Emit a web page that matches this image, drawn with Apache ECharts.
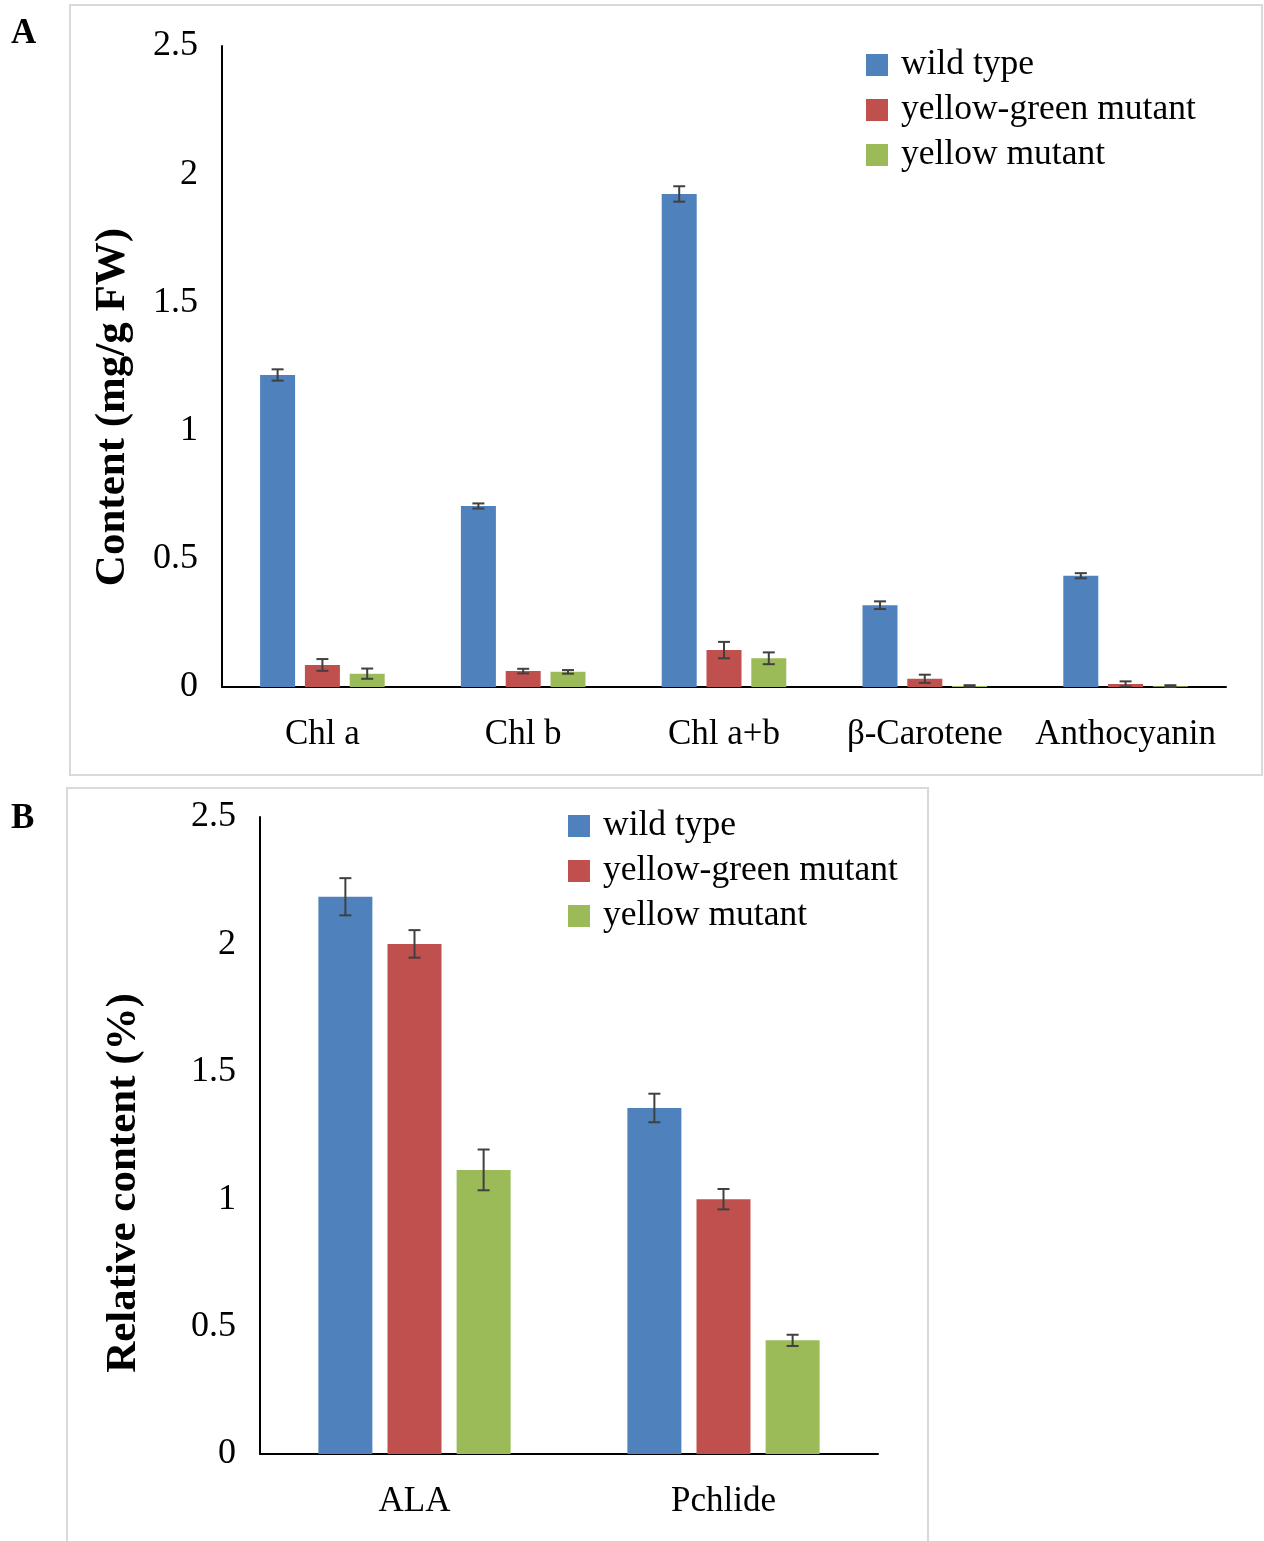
<!DOCTYPE html>
<html>
<head>
<meta charset="utf-8">
<title>Pigment content</title>
<script src="https://cdn.jsdelivr.net/npm/echarts@6/dist/echarts.min.js"></script>
<style>
  html, body { margin: 0; padding: 0; background: #fff; }
  #chart { width: 1264px; height: 1541px; }
</style>
</head>
<body>
<div id="chart"></div>
<script>
// Panel A: pigment content (mg/g FW)
const categoriesA = ['Chl a', 'Chl b', 'Chl a+b', 'β-Carotene', 'Anthocyanin'];
const wildTypeA = [1.217, 0.706, 1.923, 0.319, 0.434];
const yellowGreenA = [0.086, 0.062, 0.144, 0.032, 0.012];
const yellowA = [0.052, 0.059, 0.112, 0.004, 0.003];
const wildTypeErrA = [0.022, 0.010, 0.030, 0.015, 0.010];
const yellowGreenErrA = [0.023, 0.009, 0.032, 0.016, 0.010];
const yellowErrA = [0.020, 0.007, 0.023, 0.003, 0.004];

// Panel B: relative content (%)
const categoriesB = ['ALA', 'Pchlide'];
const wildTypeB = [2.187, 1.358];
const yellowGreenB = [2.002, 1.000];
const yellowB = [1.115, 0.446];
const wildTypeErrB = [0.073, 0.056];
const yellowGreenErrB = [0.054, 0.040];
const yellowErrB = [0.080, 0.022];

const yTicks = [0, 0.5, 1, 1.5, 2, 2.5];
const seriesNames = ['wild type', 'yellow-green mutant', 'yellow mutant'];
const colors = ['#4F81BD', '#C0504D', '#9BBB59'];

const FONT = '"Liberation Serif", "Times New Roman", serif';
const BAR_GAP = 0.28;
const BAR_W_A = 35;
const BAR_W_B = 54;

// Error bars drawn on top of each bar, shifted to the bar's slot in its group
function errorBar(slot, barWidth) {
  const step = barWidth * (1 + BAR_GAP);
  return function (params, api) {
    const i = api.value(0), v = api.value(1), e = api.value(2);
    const hi = api.coord([i, v + e]);
    const lo = api.coord([i, Math.max(0, v - e)]);
    const x = hi[0] + (slot - 1) * step;
    const cap = 6;
    const style = { stroke: '#404040', lineWidth: 2 };
    return {
      type: 'group',
      children: [
        { type: 'line', shape: { x1: x, y1: hi[1], x2: x, y2: lo[1] }, style },
        { type: 'line', shape: { x1: x - cap, y1: hi[1], x2: x + cap, y2: hi[1] }, style },
        { type: 'line', shape: { x1: x - cap, y1: lo[1], x2: x + cap, y2: lo[1] }, style }
      ]
    };
  };
}

function barSeries(name, data, idx, barWidth) {
  return {
    name, type: 'bar', data,
    xAxisIndex: idx, yAxisIndex: idx,
    barWidth, barGap: (BAR_GAP * 100) + '%',
    itemStyle: { color: colors[seriesNames.indexOf(name)] },
    z: 2
  };
}

function errSeries(values, errs, idx, slot, barWidth) {
  return {
    type: 'custom',
    xAxisIndex: idx, yAxisIndex: idx,
    renderItem: errorBar(slot, barWidth),
    data: values.map((v, i) => [i, v, errs[i]]),
    z: 5, silent: true
  };
}

const valueAxis = (idx) => ({
  type: 'value', gridIndex: idx,
  min: yTicks[0], max: yTicks[yTicks.length - 1], interval: 0.5,
  axisLine: { show: true, lineStyle: { color: '#000', width: 2 } },
  axisTick: { show: false },
  splitLine: { show: false },
  axisLabel: { fontFamily: FONT, fontSize: 36, color: '#000', margin: 24 }
});

const categoryAxis = (idx, cats) => ({
  type: 'category', gridIndex: idx, data: cats,
  axisLine: { show: true, lineStyle: { color: '#000', width: 2 } },
  axisTick: { show: false },
  axisLabel: { fontFamily: FONT, fontSize: 35, color: '#000', margin: 30, interval: 0 }
});

const legendCommon = {
  orient: 'vertical',
  icon: 'rect',
  itemWidth: 22, itemHeight: 22,
  itemGap: 9,
  data: seriesNames,
  textStyle: { fontFamily: FONT, fontSize: 35.5, color: '#000', padding: [0, 0, 0, 8] },
  selectedMode: false
};

const chart = echarts.init(document.getElementById('chart'), null, { renderer: 'canvas' });

chart.setOption({
  backgroundColor: '#fff',
  animation: false,
  grid: [
    { left: 222, top: 46, width: 1004, height: 641 },
    { left: 260, top: 817, width: 618, height: 637 }
  ],
  xAxis: [categoryAxis(0, categoriesA), categoryAxis(1, categoriesB)],
  yAxis: [valueAxis(0), valueAxis(1)],
  legend: [
    Object.assign({ left: 861, top: 42 }, legendCommon),
    Object.assign({ left: 563, top: 803 }, legendCommon)
  ],
  graphic: [
    { type: 'rect', shape: { x: 70, y: 5, width: 1192, height: 770 },
      style: { fill: 'none', stroke: '#d9d9d9', lineWidth: 2 }, z: -1 },
    { type: 'rect', shape: { x: 67, y: 788, width: 861, height: 760 },
      style: { fill: 'none', stroke: '#d9d9d9', lineWidth: 2 }, z: -1 },
    { type: 'text', left: 11, top: 16,
      style: { text: 'A', font: 'bold 35px ' + FONT, fill: '#000' } },
    { type: 'text', left: 11, top: 801,
      style: { text: 'B', font: 'bold 35px ' + FONT, fill: '#000' } },
    { type: 'text', x: 113, y: 407, rotation: Math.PI / 2,
      style: { text: 'Content (mg/g FW)', font: 'bold 43px ' + FONT, fill: '#000',
               align: 'center', verticalAlign: 'middle' } },
    { type: 'text', x: 124, y: 1183, rotation: Math.PI / 2,
      style: { text: 'Relative content (%)', font: 'bold 43px ' + FONT, fill: '#000',
               align: 'center', verticalAlign: 'middle' } }
  ],
  series: [
    barSeries('wild type', wildTypeA, 0, BAR_W_A),
    barSeries('yellow-green mutant', yellowGreenA, 0, BAR_W_A),
    barSeries('yellow mutant', yellowA, 0, BAR_W_A),
    errSeries(wildTypeA, wildTypeErrA, 0, 0, BAR_W_A),
    errSeries(yellowGreenA, yellowGreenErrA, 0, 1, BAR_W_A),
    errSeries(yellowA, yellowErrA, 0, 2, BAR_W_A),
    barSeries('wild type', wildTypeB, 1, BAR_W_B),
    barSeries('yellow-green mutant', yellowGreenB, 1, BAR_W_B),
    barSeries('yellow mutant', yellowB, 1, BAR_W_B),
    errSeries(wildTypeB, wildTypeErrB, 1, 0, BAR_W_B),
    errSeries(yellowGreenB, yellowGreenErrB, 1, 1, BAR_W_B),
    errSeries(yellowB, yellowErrB, 1, 2, BAR_W_B)
  ]
});
</script>
</body>
</html>
